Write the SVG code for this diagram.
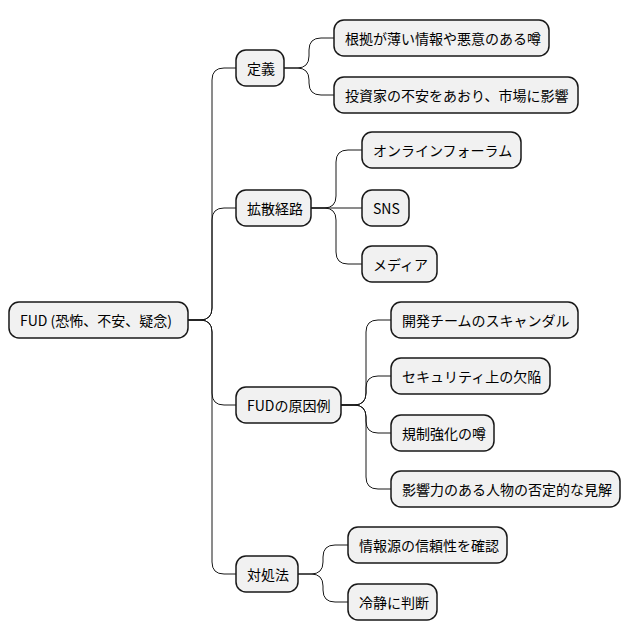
<svg xmlns="http://www.w3.org/2000/svg" width="632" height="640" viewBox="0 0 632 640">
<style>
.n rect{fill:#f1f1f1;stroke:#181818;stroke-width:1.5}
.n text{font-family:"Noto Sans CJK JP","Noto Sans",sans-serif;font-size:14px;fill:#000;dominant-baseline:central}
.c path{fill:none;stroke:#181818;stroke-width:1}
</style>
<rect width="632" height="640" fill="#fff"/>
<g class="c">
<path d="M188,320 L200,320 Q212,320 212,308 L212,80 Q212,68 224,68 L236,68"/>
<path d="M188,320 L200,320 Q212,320 212,308 L212,220 Q212,208 224,208 L236,208"/>
<path d="M188,320 L200,320 Q212,320 212,332 L212,393 Q212,405 224,405 L236,405"/>
<path d="M188,320 L200,320 Q212,320 212,332 L212,562 Q212,574 224,574 L236,574"/>
<path d="M284,68 L297,68 Q309,68 309,56 L309,50 Q309,38 321,38 L334,38"/>
<path d="M284,68 L297,68 Q309,68 309,80 L309,83 Q309,95 321,95 L334,95"/>
<path d="M311,208 L324,208 Q336,208 336,196 L336,162 Q336,150 348,150 L362,150"/>
<path d="M311,208 L362,208"/>
<path d="M311,208 L324,208 Q336,208 336,220 L336,252 Q336,264 348,264 L362,264"/>
<path d="M341,405 L354,405 Q366,405 366,393 L366,332 Q366,320 378,320 L391,320"/>
<path d="M341,405 L354,405 Q366,405 366,393 L366,388 Q366,376 378,376 L391,376"/>
<path d="M341,405 L354,405 Q366,405 366,417 L366,421 Q366,433 378,433 L391,433"/>
<path d="M341,405 L354,405 Q366,405 366,417 L366,477 Q366,489 378,489 L391,489"/>
<path d="M298,574 L311,574 Q323,574 323,562 L323,557 Q323,545 335,545 L348,545"/>
<path d="M298,574 L311,574 Q323,574 323,586 L323,590 Q323,602 335,602 L348,602"/>
</g>
<g id="root" class="n"><rect x="9" y="302" width="179" height="36" rx="10"/><text x="20" y="320">FUD (恐怖、不安、疑念)</text></g>
<g id="n1" class="n"><rect x="236" y="50" width="48" height="36" rx="10"/><text x="247" y="68">定義</text></g>
<g id="n11" class="n"><rect x="334" y="20" width="215" height="36" rx="10"/><text x="345" y="38">根拠が薄い情報や悪意のある噂</text></g>
<g id="n12" class="n"><rect x="334" y="77" width="244" height="36" rx="10"/><text x="345" y="95">投資家の不安をあおり、市場に影響</text></g>
<g id="n2" class="n"><rect x="236" y="190" width="75" height="36" rx="10"/><text x="247" y="208">拡散経路</text></g>
<g id="n21" class="n"><rect x="362" y="132" width="159" height="36" rx="10"/><text x="373" y="150">オンラインフォーラム</text></g>
<g id="n22" class="n"><rect x="362" y="190" width="47" height="36" rx="10"/><text x="373" y="208">SNS</text></g>
<g id="n23" class="n"><rect x="362" y="246" width="75" height="36" rx="10"/><text x="373" y="264">メディア</text></g>
<g id="n3" class="n"><rect x="236" y="387" width="105" height="36" rx="10"/><text x="247" y="405">FUDの原因例</text></g>
<g id="n31" class="n"><rect x="391" y="302" width="187" height="36" rx="10"/><text x="402" y="320">開発チームのスキャンダル</text></g>
<g id="n32" class="n"><rect x="391" y="358" width="159" height="36" rx="10"/><text x="402" y="376">セキュリティ上の欠陥</text></g>
<g id="n33" class="n"><rect x="391" y="415" width="103" height="36" rx="10"/><text x="402" y="433">規制強化の噂</text></g>
<g id="n34" class="n"><rect x="391" y="471" width="229" height="36" rx="10"/><text x="402" y="489">影響力のある人物の否定的な見解</text></g>
<g id="n4" class="n"><rect x="236" y="556" width="62" height="36" rx="10"/><text x="247" y="574">対処法</text></g>
<g id="n41" class="n"><rect x="348" y="527" width="159" height="36" rx="10"/><text x="359" y="545">情報源の信頼性を確認</text></g>
<g id="n42" class="n"><rect x="348" y="584" width="89" height="36" rx="10"/><text x="359" y="602">冷静に判断</text></g>
</svg>
